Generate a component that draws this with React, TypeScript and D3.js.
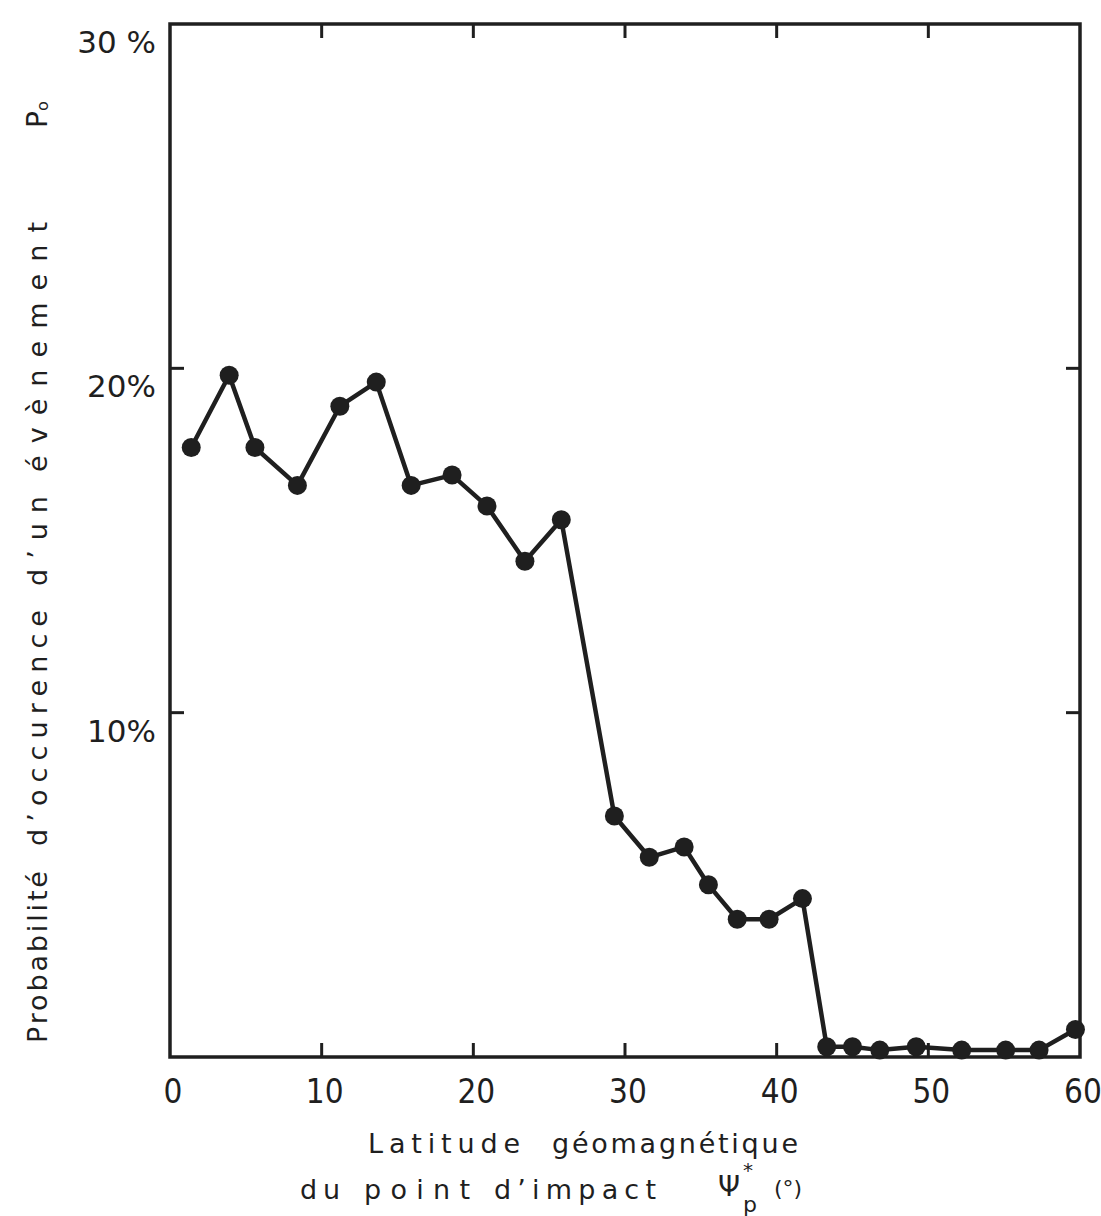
import React from 'react';
import * as d3 from 'd3';

// latitude géomagnétique (°) and probabilité d'occurence (%)
const latitude = [1.4, 3.9, 5.6, 8.4, 11.2, 13.6, 15.9, 18.6, 20.9, 23.4, 25.8, 29.3, 31.6, 33.9, 35.5, 37.4, 39.5, 41.7, 43.3, 45.0, 46.8, 49.2, 52.2, 55.1, 57.3, 59.7];
const probability = [17.7, 19.8, 17.7, 16.6, 18.9, 19.6, 16.6, 16.9, 16.0, 14.4, 15.6, 7.0, 5.8, 6.1, 5.0, 4.0, 4.0, 4.6, 0.3, 0.3, 0.2, 0.3, 0.2, 0.2, 0.2, 0.8];

const xTicks = [0, 10, 20, 30, 40, 50, 60];
const yTicks = [10, 20, 30];
const yTickLabels = ['10%', '20%', '30 %'];

// axis title words, laid out one by one like the hand lettering
const yTitleWords = [
  { t: 'Probabilité', from: 1043, len: 172 },
  { t: 'd’occurence', from: 846, len: 236 },
  { t: 'd’un', from: 586, len: 90 },
  { t: 'évènement', from: 472, len: 250 },
];
const xTitle1 = [
  { t: 'Latitude', from: 368, len: 152 },
  { t: 'géomagnétique', from: 552, len: 246 },
];
const xTitle2 = [
  { t: 'du', from: 300, len: 40 },
  { t: 'point', from: 364, len: 106 },
  { t: 'd’impact', from: 494, len: 162 },
];

const W = 1101;
const H = 1216;
const ink = '#1f1f1f';
const font = "'DejaVu Sans', sans-serif";
const condensed = "'DejaVu Sans Condensed', 'DejaVu Sans', sans-serif";

export default function App() {
  const x = d3.scaleLinear().domain([0, 60]).range([170, 1080]);
  const y = d3.scaleLinear().domain([0, 30]).range([1057, 24]);

  const pts = latitude.map((v, i) => [v, probability[i]] as [number, number]);
  const line = d3.line<[number, number]>()
    .x(d => x(d[0]))
    .y(d => y(d[1]));

  const x0 = x(0), x1 = x(60), y0 = y(0), y1 = y(30);
  const tickLen = 14;

  return (
    <svg width={W} height={H} style={{ position: 'absolute', left: 0, top: 0, background: '#fff' }}>
      <rect x={0} y={0} width={W} height={H} fill="#fff" />

      {/* frame */}
      <rect x={x0} y={y1} width={x1 - x0} height={y0 - y1} fill="none" stroke={ink} strokeWidth={3.5} />

      {/* inner ticks on x */}
      {xTicks.filter(t => t > 0 && t < 60).map(t => (
        <g key={'xt' + t}>
          <line x1={x(t)} x2={x(t)} y1={y1} y2={y1 + tickLen} stroke={ink} strokeWidth={3} />
          <line x1={x(t)} x2={x(t)} y1={y0} y2={y0 - tickLen} stroke={ink} strokeWidth={3} />
        </g>
      ))}
      {/* inner ticks on y */}
      {yTicks.filter(t => t < 30).map(t => (
        <g key={'yt' + t}>
          <line x1={x0} x2={x0 + tickLen} y1={y(t)} y2={y(t)} stroke={ink} strokeWidth={3} />
          <line x1={x1} x2={x1 - tickLen} y1={y(t)} y2={y(t)} stroke={ink} strokeWidth={3} />
        </g>
      ))}

      {/* x tick labels */}
      {xTicks.map(t => (
        <text key={'xl' + t} x={x(t) + 3} y={1103} textAnchor="middle" fontFamily={condensed} fontSize={33} fill={ink}>
          {t}
        </text>
      ))}
      {/* y tick labels */}
      {yTicks.map((t, i) => (
        <text key={'yl' + t} x={156} y={y(t) + 29} textAnchor="end" fontFamily={font} fontSize={31} fill={ink}>
          {yTickLabels[i]}
        </text>
      ))}

      {/* data */}
      <path d={line(pts) || ''} fill="none" stroke={ink} strokeWidth={4.5} strokeLinejoin="round" />
      {pts.map((d, i) => (
        <circle key={'p' + i} cx={x(d[0])} cy={y(d[1])} r={9.5} fill={ink} />
      ))}

      {/* y axis title */}
      {yTitleWords.map(w => (
        <text key={w.t} transform={`translate(47,${w.from}) rotate(-90)`} fontFamily={font} fontSize={27} fill={ink}
          textLength={w.len} lengthAdjust="spacing">
          {w.t}
        </text>
      ))}
      <text transform="translate(47,128) rotate(-90)" fontFamily={font} fontSize={28} fill={ink}>
        P<tspan fontSize={16} dy={1}>o</tspan>
      </text>

      {/* x axis title */}
      {xTitle1.map(w => (
        <text key={w.t} x={w.from} y={1153} fontFamily={font} fontSize={27} fill={ink} textLength={w.len} lengthAdjust="spacing">
          {w.t}
        </text>
      ))}
      {xTitle2.map(w => (
        <text key={w.t} x={w.from} y={1199} fontFamily={font} fontSize={27} fill={ink} textLength={w.len} lengthAdjust="spacing">
          {w.t}
        </text>
      ))}
      <text x={718} y={1196} fontFamily={font} fontSize={28} fill={ink}>Ψ</text>
      <text x={743} y={1177} fontFamily={font} fontSize={20} fill={ink}>*</text>
      <text x={743} y={1212} fontFamily={font} fontSize={22} fill={ink}>p</text>
      <text x={774} y={1196} fontFamily={font} fontSize={22} fill={ink}>(°)</text>
    </svg>
  );
}
